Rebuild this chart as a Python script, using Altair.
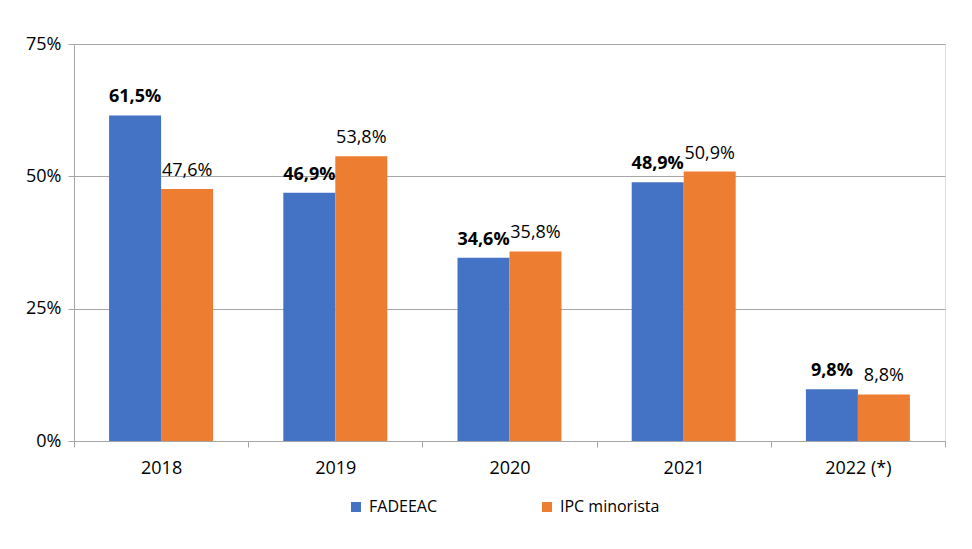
import altair as alt
import pandas as pd

years = ["2018", "2019", "2020", "2021", "2022 (*)"]
fadeeac = [61.5, 46.9, 34.6, 48.9, 9.8]
ipc = [47.6, 53.8, 35.8, 50.9, 8.8]
series = ["FADEEAC", "IPC minorista"]
colors = ["#4472C4", "#ED7D31"]
y_ticks = [0, 25, 50, 75]

rows = []
for y, a, b in zip(years, fadeeac, ipc):
    rows.append({"year": y, "serie": series[0], "value": a})
    rows.append({"year": y, "serie": series[1], "value": b})
df = pd.DataFrame(rows)
df["label"] = df["value"].map(lambda v: f"{v:.1f}%".replace(".", ","))

FONT = "Open Sans"

x = alt.X("year:N", sort=years, title=None,
          scale=alt.Scale(paddingInner=0, paddingOuter=0),
          axis=alt.Axis(tickBand="extent", labelAngle=0, labelFontSize=18,
                        labelFont=FONT, labelColor="#000000", labelPadding=12,
                        tickSize=6, tickColor="#A6A6A6", domainColor="#A6A6A6",
                        labelFlush=False))
xo = alt.XOffset("serie:N", sort=series,
                 scale=alt.Scale(paddingInner=0, paddingOuter=0.675))
y = alt.Y("value:Q", title=None,
          scale=alt.Scale(domain=[0, 75], nice=False),
          axis=alt.Axis(values=y_ticks, labelExpr="datum.value + '%'",
                        labelFontSize=18, labelFont=FONT, labelColor="#000000",
                        tickSize=6, labelPadding=7, tickColor="#A6A6A6",
                        domainColor="#A6A6A6", gridColor="#A6A6A6",
                        grid=True))
color = alt.Color("serie:N", sort=series,
                  scale=alt.Scale(domain=series, range=colors),
                  legend=alt.Legend(title=None, orient="none", direction="horizontal",
                                    legendX=274, legendY=455, symbolType="square",
                                    symbolSize=100, labelFontSize=16, labelFont=FONT,
                                    labelColor="#000000", columnPadding=102,
                                    labelOffset=5, symbolStrokeWidth=0))

base = alt.Chart(df)
bars = base.mark_bar().encode(x=x, xOffset=xo, y=y, color=color)
txt_b = base.transform_filter(alt.datum.serie == series[0]).mark_text(
    baseline="bottom", dy=-9, fontSize=18, font=FONT, fontWeight="bold", color="#000000"
).encode(x=x, xOffset=xo, y=y, text="label:N")
txt_o = base.transform_filter(alt.datum.serie == series[1]).mark_text(
    baseline="bottom", dy=-9, fontSize=18, font=FONT, color="#000000"
).encode(x=x, xOffset=xo, y=y, text="label:N")

chart = alt.layer(bars, txt_b, txt_o).properties(
    width=871, height=397,
    autosize=alt.AutoSizeParams(type="none"),
    padding={"left": 66, "top": 36, "right": 10, "bottom": 90},
).configure_view(stroke=None).configure(background="#ffffff")

chart.save("out.html", embed_options={"renderer": "svg", "actions": False})
